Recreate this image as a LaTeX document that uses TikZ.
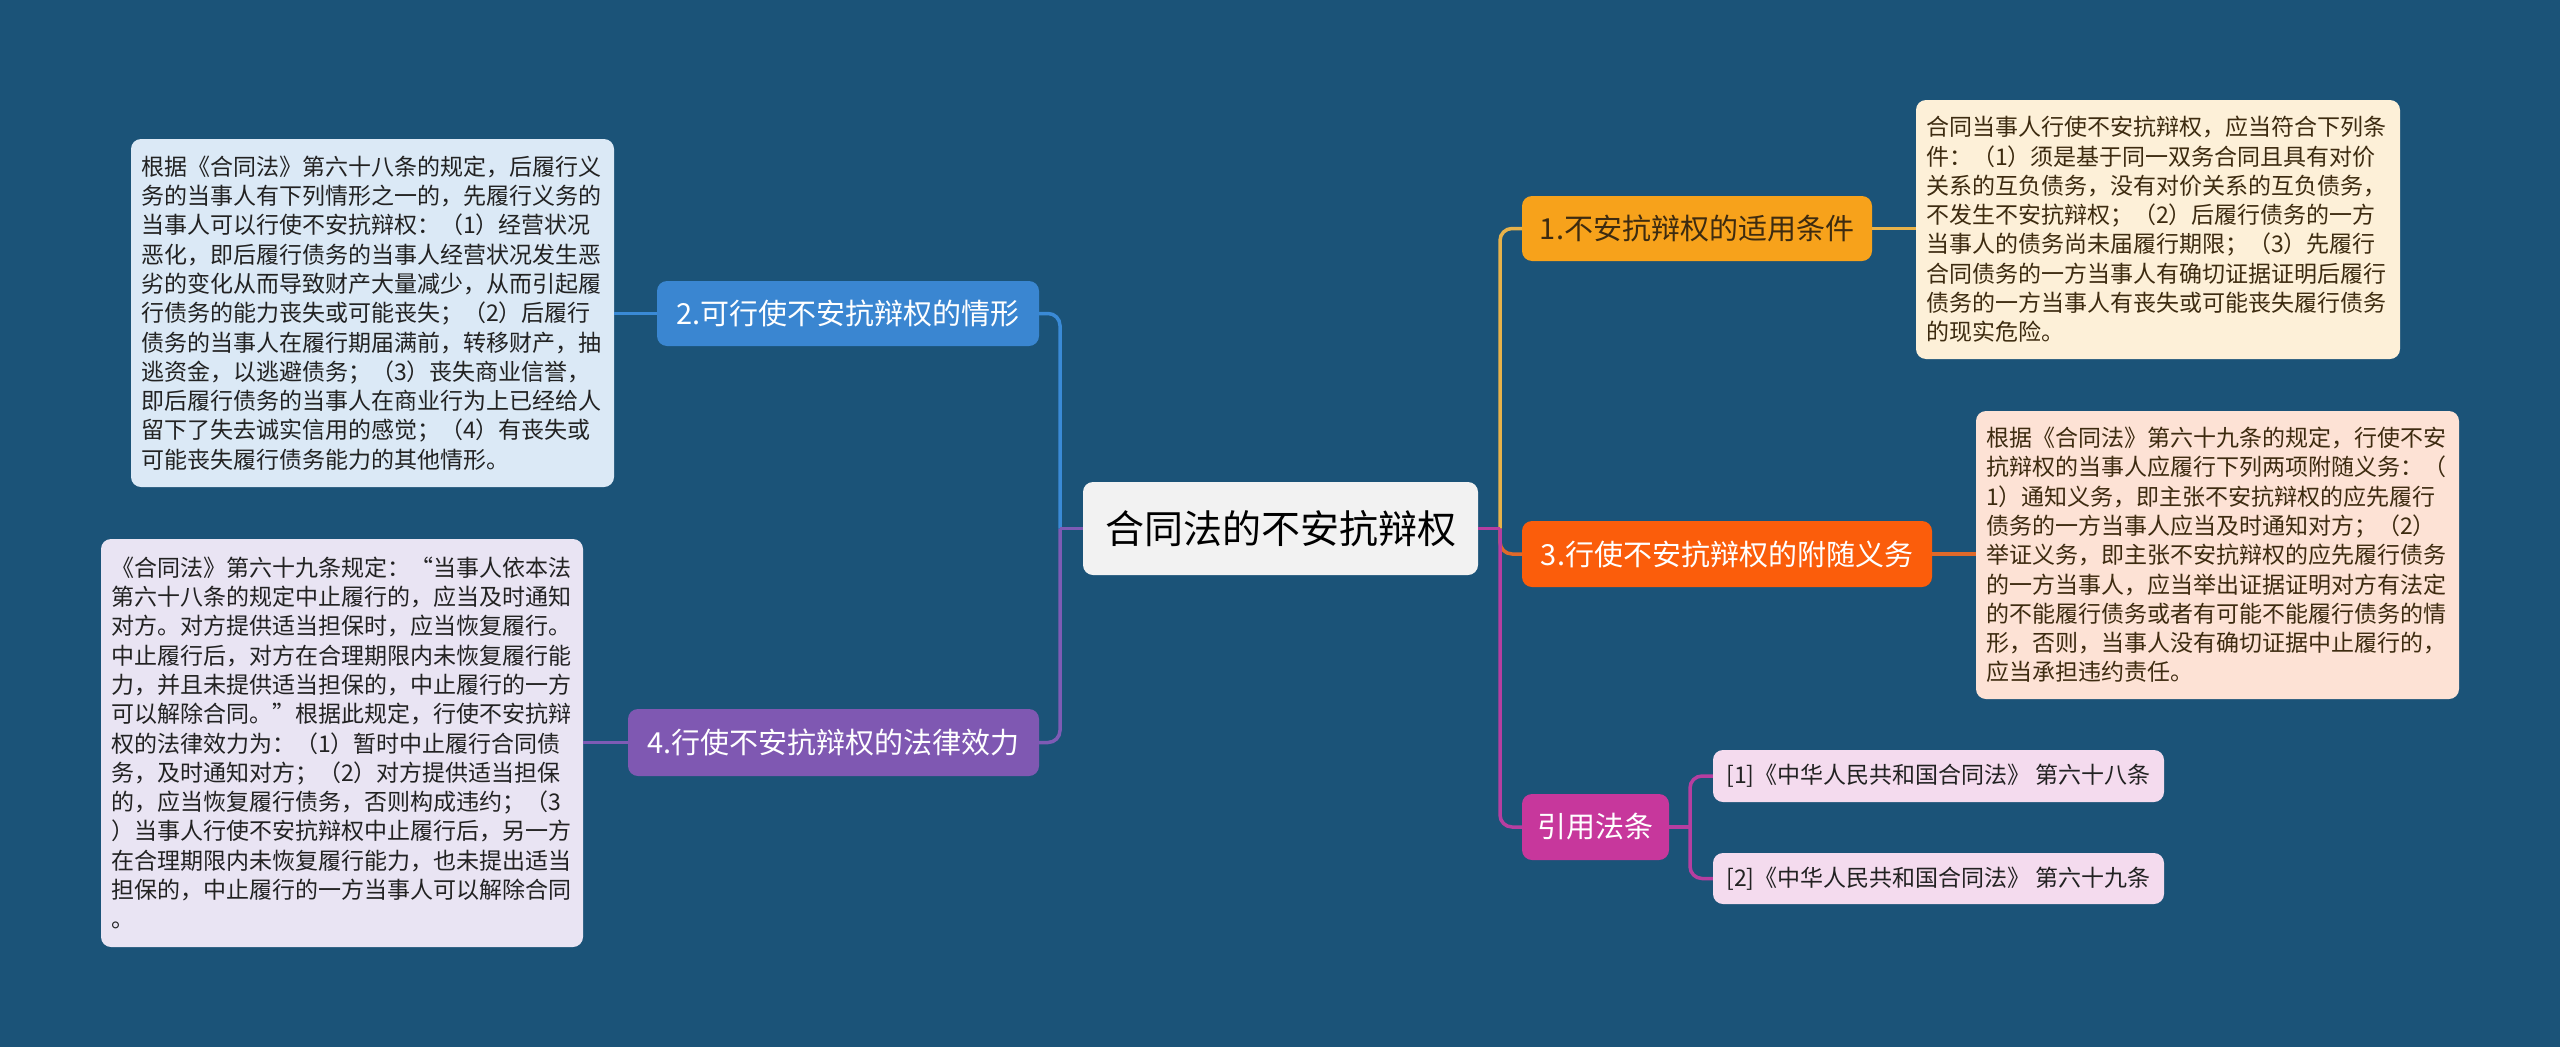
\documentclass[tikz,border=0pt]{standalone}
\usepackage{fontspec}
\setmainfont{Noto Sans CJK SC}
\definecolor{bg}{HTML}{1B5378}
\definecolor{cfill}{HTML}{F2F2F2}
\definecolor{oA}{HTML}{F7A21B}
\definecolor{oB}{HTML}{FB5D0B}
\definecolor{mg}{HTML}{C7379C}
\definecolor{bl}{HTML}{3A86D1}
\definecolor{pu}{HTML}{7F58B2}
\definecolor{lA}{HTML}{E8B24A}
\definecolor{lB}{HTML}{E0692A}
\definecolor{lM}{HTML}{B63EA0}
\definecolor{lBl}{HTML}{3A8AD6}
\definecolor{lP}{HTML}{7E5BB5}
\definecolor{fLT}{HTML}{DBE9F6}
\definecolor{fLB}{HTML}{E9E4F3}
\definecolor{fRT}{HTML}{FDF0D8}
\definecolor{fRM}{HTML}{FDE2D5}
\definecolor{fCI}{HTML}{F4DBEE}
\definecolor{tdark}{HTML}{222222}
\definecolor{tbrown}{HTML}{3D2B10}
\tikzset{
  rbox/.style={rounded corners=10pt, inner sep=0pt},
  branch/.style={rbox, text=white, font={\fontsize{29pt}{34pt}\selectfont}},
  note/.style={rbox, align=left, font={\fontsize{23pt}{29.3pt}\selectfont}},
  conn/.style={line width=3.5pt},
}
\begin{document}
\begin{tikzpicture}[x=1pt,y=-1pt]
\fill[bg] (0,0) rectangle (2560,1047);
\useasboundingbox (0,0) rectangle (2560,1047);

% center
\node[rbox, fill=cfill, text=black, minimum width=395pt, minimum height=93pt,
      font={\fontsize{39pt}{44pt}\selectfont}] (c) at (1280.5,528.5) {合同法的不安抗辩权};

% branches
\node[branch, fill=oA, text=tbrown, minimum width=350pt, minimum height=65pt] (n1) at (1697,228.5) {1.不安抗辩权的适用条件};
\node[branch, fill=oB, minimum width=410pt, minimum height=66pt] (n3) at (1727,554) {3.行使不安抗辩权的附随义务};
\node[branch, fill=mg, minimum width=147pt, minimum height=66pt] (yy) at (1595.5,827) {引用法条};
\node[branch, fill=bl, minimum width=382pt, minimum height=65pt] (n2) at (848,313.5) {2.可行使不安抗辩权的情形};
\node[branch, fill=pu, minimum width=411pt, minimum height=67pt] (n4) at (833.5,742.5) {4.行使不安抗辩权的法律效力};

% notes
\node[note, fill=fLT, text=tdark, minimum width=483pt, minimum height=348pt, text width=463pt] (lt) at (372.5,313) {根据《合同法》第六十八条的规定，后履行义\\务的当事人有下列情形之一的，先履行义务的\\当事人可以行使不安抗辩权：（1）经营状况\\恶化，即后履行债务的当事人经营状况发生恶\\劣的变化从而导致财产大量减少，从而引起履\\行债务的能力丧失或可能丧失；（2）后履行\\债务的当事人在履行期届满前，转移财产，抽\\逃资金，以逃避债务；（3）丧失商业信誉，\\即后履行债务的当事人在商业行为上已经给人\\留下了失去诚实信用的感觉；（4）有丧失或\\可能丧失履行债务能力的其他情形。};

\node[note, fill=fLB, text=tdark, minimum width=482pt, minimum height=408pt, text width=462pt] (lb) at (342,743) {《合同法》第六十九条规定：“当事人依本法\\第六十八条的规定中止履行的，应当及时通知\\对方。对方提供适当担保时，应当恢复履行。\\中止履行后，对方在合理期限内未恢复履行能\\力，并且未提供适当担保的，中止履行的一方\\可以解除合同。”根据此规定，行使不安抗辩\\权的法律效力为：（1）暂时中止履行合同债\\务，及时通知对方；（2）对方提供适当担保\\的，应当恢复履行债务，否则构成违约；（3\\）当事人行使不安抗辩权中止履行后，另一方\\在合理期限内未恢复履行能力，也未提出适当\\担保的，中止履行的一方当事人可以解除合同\\。};

\node[note, fill=fRT, text=tbrown, minimum width=484pt, minimum height=259pt, text width=464pt] (rt) at (2158,229.5) {合同当事人行使不安抗辩权，应当符合下列条\\件：（1）须是基于同一双务合同且具有对价\\关系的互负债务，没有对价关系的互负债务，\\不发生不安抗辩权；（2）后履行债务的一方\\当事人的债务尚未届履行期限；（3）先履行\\合同债务的一方当事人有确切证据证明后履行\\债务的一方当事人有丧失或可能丧失履行债务\\的现实危险。};

\node[note, fill=fRM, text=tbrown, minimum width=483pt, minimum height=288pt, text width=463pt] (rm) at (2217.5,555) {根据《合同法》第六十九条的规定，行使不安\\抗辩权的当事人应履行下列两项附随义务：（\\1）通知义务，即主张不安抗辩权的应先履行\\债务的一方当事人应当及时通知对方；（2）\\举证义务，即主张不安抗辩权的应先履行债务\\的一方当事人，应当举出证据证明对方有法定\\的不能履行债务或者有可能不能履行债务的情\\形，否则，当事人没有确切证据中止履行的，\\应当承担违约责任。};

\node[rbox, fill=fCI, text=tdark, minimum width=451pt, minimum height=52pt,
      font={\fontsize{23pt}{28pt}\selectfont}] (c1) at (1938.5,776) {[1]《中华人民共和国合同法》 第六十八条};
\node[rbox, fill=fCI, text=tdark, minimum width=451pt, minimum height=51pt,
      font={\fontsize{23pt}{28pt}\selectfont}] (c2) at (1938.5,878.5) {[2]《中华人民共和国合同法》 第六十九条};

% junction coordinates
\coordinate (lj) at (1060,528.5);
\coordinate (rj) at (1500,528.5);
\coordinate (cj) at (1690,827);

% left connectors
\begin{scope}[on background layer/.style={}]
\draw[conn, lBl, rounded corners=12pt] (lj) |- (n2.east);
\draw[conn, lP, rounded corners=12pt] (lj) |- (n4.east);
\draw[conn, lP] (c.west) -- (lj);
% right connectors
\draw[conn, lA, rounded corners=12pt] (rj) |- (n1.west);
\draw[conn, lB, rounded corners=12pt] (rj) |- (n3.west);
\draw[conn, lM, rounded corners=12pt] (rj) |- (yy.west);
\draw[conn, lM] (c.east) -- (rj);
% leaf connectors
\draw[conn, lA] (n1.east) -- (n1.east -| rt.west);
\draw[conn, lB] (n3.east) -- (n3.east -| rm.west);
\draw[conn, lBl] (n2.west) -- (n2.west -| lt.east);
\draw[conn, lP] (n4.west) -- (n4.west -| lb.east);
\draw[conn, lM] (yy.east) -- (cj);
\draw[conn, lM, rounded corners=12pt] (cj) |- (c1.west);
\draw[conn, lM, rounded corners=12pt] (cj) |- (c2.west);
\end{scope}
\end{tikzpicture}
\end{document}
